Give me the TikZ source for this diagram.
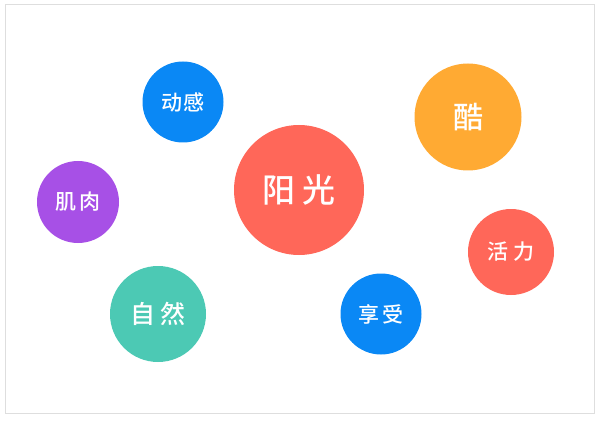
\documentclass[tikz,border=0pt]{standalone}
\usepackage{fontspec}
\newfontfamily\cjk[UprightFont={* Medium}]{Noto Sans CJK SC}
\usepackage{tikz}
\definecolor{sunred}{HTML}{FF6759}
\definecolor{skyblue}{HTML}{0A88F5}
\definecolor{amber}{HTML}{FFAA33}
\definecolor{violet}{HTML}{A750E6}
\definecolor{mint}{HTML}{4CC9B4}
\definecolor{framegray}{HTML}{DEDEDE}
\newcommand{\fs}[1]{\cjk\fontsize{#1}{#1}\selectfont}

\begin{document}
\begin{tikzpicture}[x=1pt,y=-1pt,
  bubble/.style={circle,inner sep=0pt,text=white},
  frame/.style={draw=framegray,line width=1pt}]
\useasboundingbox (0,0) rectangle (600,425);
\draw[frame] (5,5) rectangle (594,413);
\node[bubble,fill=sunred,minimum size=130pt,font=\fs{33}] (yang) at (299,190) {阳\hspace{0.2em}光};
\node[bubble,fill=skyblue,minimum size=81pt,font=\fs{21}] (dong) at (183,102) {动\hspace{0.05em}感};
\node[bubble,fill=amber,minimum size=107pt,font=\fs{30}] (ku) at (468,117) {酷};
\node[bubble,fill=violet,minimum size=82pt,font=\fs{21}] (ji) at (78,202) {肌\hspace{0.1em}肉};
\node[bubble,fill=sunred,minimum size=86pt,font=\fs{21}] (huo) at (511,252) {活\hspace{0.25em}力};
\node[bubble,fill=mint,minimum size=96pt,font=\fs{25}] (zi) at (158,314) {自\hspace{0.2em}然};
\node[bubble,fill=skyblue,minimum size=81pt,font=\fs{21}] (xiang) at (381,314) {享\hspace{0.1em}受};
\end{tikzpicture}
\end{document}
